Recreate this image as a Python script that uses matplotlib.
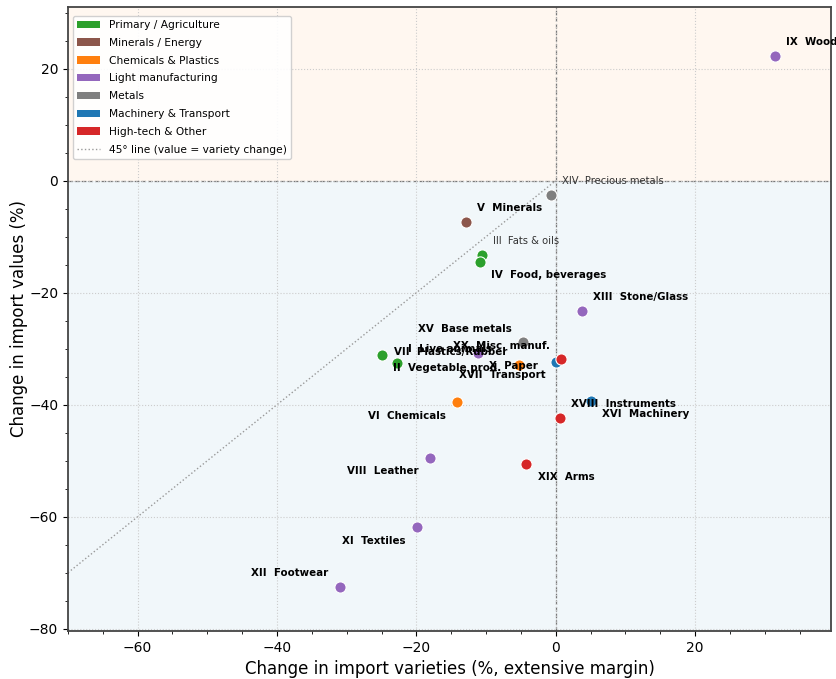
import matplotlib.pyplot as plt
from matplotlib.patches import Patch
from matplotlib.lines import Line2D
from matplotlib.ticker import MultipleLocator

# HS sections: change in number of imported varieties vs change in import value (%)
sections = ["I", "II", "III", "IV", "V", "VI", "VII", "VIII", "IX", "X",
            "XI", "XII", "XIII", "XIV", "XV", "XVI", "XVII", "XVIII", "XIX", "XX"]
names = ["Live animals", "Vegetable prod.", "Fats & oils", "Food, beverages",
         "Minerals", "Chemicals", "Plastics/Rubber", "Leather", "Wood", "Paper",
         "Textiles", "Footwear", "Stone/Glass", "Precious metals", "Base metals",
         "Machinery", "Transport", "Instruments", "Arms", "Misc. manuf."]
variety_chg = [-22.8, -24.9, -10.6, -10.9, -12.9, -14.2, -5.3, -18.1, 31.4, -11.2,
               -19.9, -31.0, 3.7, -0.7, -4.7, 5.0, 0.1, 0.6, -4.2, 0.7]
value_chg = [-32.5, -31.1, -13.2, -14.5, -7.3, -39.6, -32.9, -49.5, 22.3, -30.7,
             -61.9, -72.5, -23.2, -2.5, -28.8, -39.3, -32.3, -42.3, -50.5, -31.9]
groups = ["Primary", "Primary", "Primary", "Primary", "Minerals", "Chemicals",
          "Chemicals", "Light", "Light", "Light", "Light", "Light", "Light",
          "Metals", "Metals", "Machinery", "Machinery", "Hightech", "Hightech",
          "Hightech"]

group_labels = {
    "Primary": "Primary / Agriculture",
    "Minerals": "Minerals / Energy",
    "Chemicals": "Chemicals & Plastics",
    "Light": "Light manufacturing",
    "Metals": "Metals",
    "Machinery": "Machinery & Transport",
    "Hightech": "High-tech & Other",
}
group_colors = {
    "Primary": "#2ca02c",
    "Minerals": "#8c564b",
    "Chemicals": "#ff7f0e",
    "Light": "#9467bd",
    "Metals": "#7f7f7f",
    "Machinery": "#1f77b4",
    "Hightech": "#d62728",
}

# label placement: (dx, dy) in points
UR, UL, LR, LL = (8, 6), (-8, 6), (8, -6), (-8, -6)
label_pos = {
    "I": UR, "II": LR, "III": UR, "IV": LR, "V": UR, "VI": LL, "VII": UL,
    "VIII": LL, "IX": UR, "X": LR, "XI": LL, "XII": UL, "XIII": UR, "XIV": UR,
    "XV": UL, "XVI": LR, "XVII": LL, "XVIII": UR, "XIX": LR, "XX": UL,
}
plain_labels = {"III", "XIV"}

fig, ax = plt.subplots(figsize=(8.36, 6.79), dpi=100)
fig.subplots_adjust(left=0.0813, right=0.994, top=0.9897, bottom=0.0707)

xlim = (-70, 39.5)
ylim = (-80.4, 31)

# shaded halves: gains above zero, losses below
ax.axhspan(0, ylim[1], color="#ff7f0e", alpha=0.06, lw=0, zorder=0)
ax.axhspan(ylim[0], 0, color="#1f77b4", alpha=0.06, lw=0, zorder=0)

ax.axhline(0, color="#777777", ls="--", lw=0.9, zorder=1)
ax.axvline(0, color="#777777", ls="--", lw=0.9, zorder=1)
ax.plot([xlim[0], 0], [xlim[0], 0], color="#999999", ls=":", lw=1.0, zorder=1)

for sec, name, x, y, g in zip(sections, names, variety_chg, value_chg, groups):
    ax.scatter(x, y, s=65, color=group_colors[g], edgecolor="white",
               linewidth=0.8, zorder=3)
    dx, dy = label_pos[sec]
    plain = sec in plain_labels
    ax.annotate(f"{sec}  {name}", (x, y), xytext=(dx, dy),
                textcoords="offset points",
                ha="left" if dx > 0 else "right",
                va="bottom" if dy > 0 else "top",
                fontsize=7.2 if plain else 7.4,
                fontweight="normal" if plain else "bold",
                color="#333333" if plain else "black", zorder=4)

ax.set_xlim(*xlim)
ax.set_ylim(*ylim)
ax.xaxis.set_major_locator(MultipleLocator(20))
ax.yaxis.set_major_locator(MultipleLocator(20))
ax.xaxis.set_minor_locator(MultipleLocator(5))
ax.yaxis.set_minor_locator(MultipleLocator(5))
ax.grid(True, which="major", color="#cccccc", ls=":", lw=0.8, zorder=0)
ax.tick_params(labelsize=10)
for sp in ax.spines.values():
    sp.set_color("#444444")
    sp.set_linewidth(1.3)

ax.set_xlabel("Change in import varieties (%, extensive margin)", fontsize=12)
ax.set_ylabel("Change in import values (%)", fontsize=12, labelpad=1)

handles = [Patch(facecolor=group_colors[k], label=v) for k, v in group_labels.items()]
handles.append(Line2D([], [], color="#999999", ls=":", lw=1.0,
                      label="45° line (value = variety change)"))
ax.legend(handles=handles, loc="upper left", bbox_to_anchor=(0.006, 0.986),
          borderaxespad=0, fontsize=7.7, framealpha=0.9,
          handlelength=2.2, labelspacing=0.73)

fig.savefig("out.png", dpi=100)
